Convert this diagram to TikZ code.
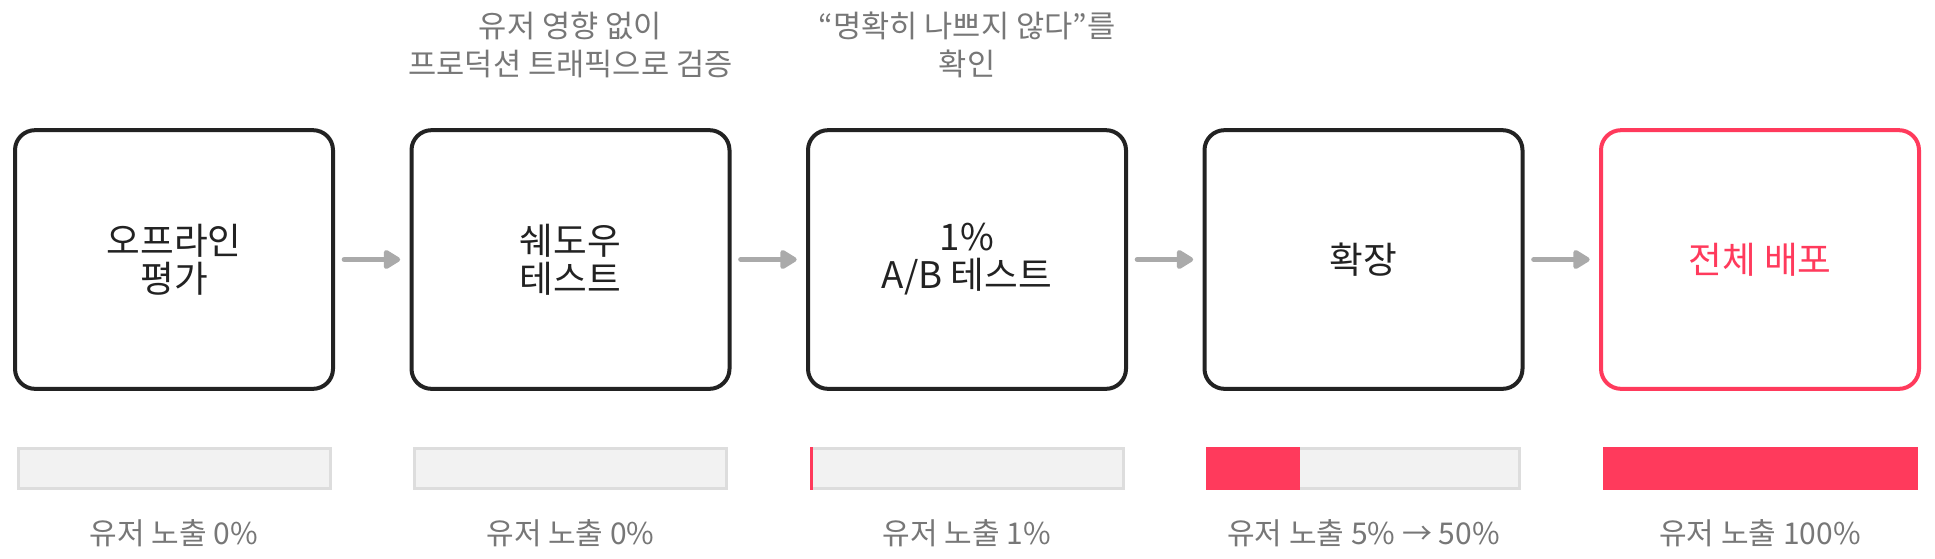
\documentclass[tikz,border=0pt]{standalone}
\usepackage{fontspec}
\setmainfont{Noto Sans CJK KR}
\usetikzlibrary{arrows.meta}
\definecolor{ink}{HTML}{222222}
\definecolor{accent}{HTML}{FF3A5C}
\definecolor{note}{HTML}{777777}
\definecolor{barbg}{HTML}{F2F2F2}
\definecolor{barline}{HTML}{DDDDDD}
\definecolor{flowc}{HTML}{AAAAAA}
\begin{document}
\begin{tikzpicture}[x=0.75pt,y=-0.75pt,
  stage/.style={draw=ink, line width=3pt, rounded corners=15pt,
    minimum width=238.5pt, minimum height=194pt, inner sep=0pt,
    align=center, text=ink, font=\fontsize{27.5}{28.5}\selectfont},
  final/.style={stage, draw=accent, text=accent},
  note/.style={align=center, text=note, font=\fontsize{23}{28.5}\selectfont},
  barbox/.style={draw=barline, fill=barbg, line width=2.25pt,
    minimum width=234pt, minimum height=30pt, inner sep=0pt},
  barlabel/.style={text=note, font=\fontsize{22.5}{24}\selectfont},
  flow/.style={draw=flowc, line width=4pt, line cap=round,
    -{Triangle[length=14pt,width=16pt,round]}, shorten <=7pt, shorten >=7pt}
]
\useasboundingbox (0,0) rectangle (1935,558);

\node[stage] (s1) at (174,259.5) {오프라인\\평가};
\node[stage] (s2) at (570.5,259.5) {쉐도우\\테스트};
\node[stage] (s3) at (967,259.5) {1\%\\A/B 테스트};
\node[stage] (s4) at (1363.5,259.5) {확장};
\node[final] (s5) at (1760,259.5) {전체 배포};

\draw[flow] (s1.east) -- (s2.west);
\draw[flow] (s2.east) -- (s3.west);
\draw[flow] (s3.east) -- (s4.west);
\draw[flow] (s4.east) -- (s5.west);

\node[note] (n2) at (570.5,45) {유저 영향 없이\\프로덕션 트래픽으로 검증};
\node[note] (n3) at (967,45) {“명확히 나쁘지 않다”를\\확인};

\node[barbox] (b1) at (174,468.5) {};
\node[barbox] (b2) at (570.5,468.5) {};
\node[barbox] (b3) at (967,468.5) {};
\node[barbox] (b4) at (1363.5,468.5) {};
\node[barbox] (b5) at (1760,468.5) {};

\fill[accent] (809.5,447) rectangle (813,490);
\fill[accent] (1206,447) rectangle (1300,490);
\fill[accent] (1602.5,447) rectangle (1917.5,490);

\node[barlabel] (l1) at (174,533) {유저 노출 0\%};
\node[barlabel] (l2) at (570.5,533) {유저 노출 0\%};
\node[barlabel] (l3) at (967,533) {유저 노출 1\%};
\node[barlabel] (l4) at (1363.5,533) {유저 노출 5\% → 50\%};
\node[barlabel] (l5) at (1760,533) {유저 노출 100\%};
\end{tikzpicture}
\end{document}
